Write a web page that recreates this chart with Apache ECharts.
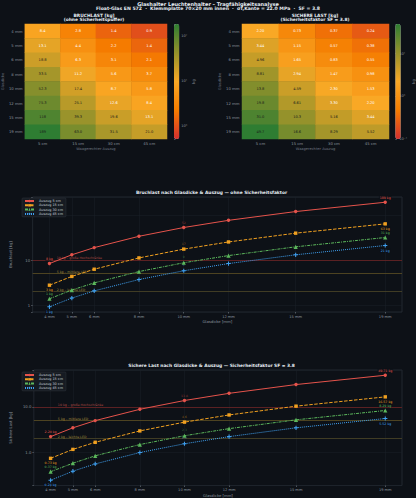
<!DOCTYPE html>
<html><head><meta charset="utf-8">
<script src="https://cdn.jsdelivr.net/npm/echarts@6/dist/echarts.min.js"></script>
<style>html,body{margin:0;padding:0;background:#0d1117}#c{width:416px;height:498px}</style>
</head><body><div id="c"></div>
<script>
// ---------- data ----------
const thicknessLabels = ['4 mm','5 mm','6 mm','8 mm','10 mm','12 mm','15 mm','19 mm'];
const thicknessMm = [4,5,6,8,10,12,15,19];
const extensionLabels = ['5 cm','15 cm','30 cm','45 cm'];
const seriesNames = ['Auszug 5 cm','Auszug 15 cm','Auszug 30 cm','Auszug 45 cm'];
// Bruchlast [kg] per extension, rows = thickness
const break5  = [8.37,13.08,18.84,33.49,52.33,75.35,117.74,188.90];
const break15 = [2.79,4.36,6.28,11.16,17.44,25.12,39.25,62.97];
const break30 = [1.40,2.18,3.14,5.58,8.72,12.56,19.62,31.48];
const break45 = [0.93,1.45,2.09,3.72,5.81,8.37,13.08,20.99];
// Sichere Last [kg] (SF = 3.8)
const safe5  = [2.20,3.44,4.96,8.81,13.77,19.83,30.98,49.71];
const safe15 = [0.73,1.15,1.65,2.94,4.59,6.61,10.33,16.57];
const safe30 = [0.37,0.57,0.83,1.47,2.30,3.30,5.16,8.29];
const safe45 = [0.24,0.38,0.55,0.98,1.53,2.20,3.44,5.52];
// reference loads
const refLoads = [10, 5, 2];
const refLabels = ['10 kg – große Hochschränke', '5 kg – mittlere LED', '2 kg – leichte LED'];
// colour scale limits
const breakScale = [0.5, 188.9];
const safeScale = [0.1, 49.71];

// ---------- styling ----------
const FONT = 'DejaVu Sans';
const BG = '#0d1117';
const TXT = '#c9d1d9';
const DIM = '#8b949e';
const cmap = ['#d32f2f','#f57c00','#f9a825','#94922b','#2e7d32'];
const colors = ['#e5534b','#f0a020','#5cb85c','#3fa0f0'];
const plusPath = 'path://M3,0H5V3H8V5H5V8H3V5H0V3H3Z';
const symbols = ['circle','rect','triangle',plusPath];
const dashes = ['solid',[3.5,1.5],[3,1,1,1],[1,1]];
const refColors = ['#6e2424','#5e5024','#4e4828'];
const refTextColors = ['#b04a44','#a08a3a','#a08a3a'];

const breakLoads = [break5, break15, break30, break45];
const safeLoads = [safe5, safe15, safe30, safe45];
const lg = Math.log10;

function heatData(loads, scale, fmt) {
  const out = [];
  loads.forEach((col, xi) => col.forEach((v, yi) => {
    const f = (lg(v) - lg(scale[0])) / (lg(scale[1]) - lg(scale[0]));
    out.push({ value: [xi, yi, lg(v), v], label: { color: f > 0.58 ? '#1b1b1b' : '#ffffff', formatter: fmt(v) } });
  }));
  return out;
}
const fmtBreak = v => v >= 100 ? v.toFixed(0) : v.toFixed(1);
const fmtSafe = v => v >= 10 ? v.toFixed(1) : v.toFixed(2);
const sup = { '-': '⁻', '0': '⁰', '1': '¹', '2': '²', '3': '³' };
function decadeLabel(v) {
  const e = lg(v);
  if (Math.abs(e - Math.round(e)) > 1e-6) return '';
  return '10' + String(Math.round(e)).split('').map(c => sup[c]).join('');
}

function heatAxes(gi) {
  return {
    x: { gridIndex: gi, type: 'category', data: extensionLabels,
      axisLine: { show: false }, axisTick: { alignWithLabel: true, length: 1.5, lineStyle: { color: DIM, width: 0.5 } },
      axisLabel: { fontSize: 3.8, color: DIM, margin: 2.5, fontFamily: FONT },
      name: 'Waagerechter Auszug', nameLocation: 'middle', nameGap: 8,
      nameTextStyle: { fontSize: 3.6, color: '#6e7681', fontFamily: FONT } },
    y: { gridIndex: gi, type: 'category', data: thicknessLabels, inverse: true,
      axisLine: { show: false }, axisTick: { alignWithLabel: true, length: 1.5, lineStyle: { color: DIM, width: 0.5 } },
      axisLabel: { fontSize: 3.8, color: DIM, margin: 2.5, fontFamily: FONT },
      name: 'Glasdicke', nameLocation: 'middle', nameGap: 15, nameRotate: 90,
      nameTextStyle: { fontSize: 3.6, color: '#6e7681', fontFamily: FONT } }
  };
}
function cbarAxes(gi, scale) {
  return {
    x: { gridIndex: gi, type: 'value', show: false, min: 0, max: 1 },
    y: { gridIndex: gi, type: 'log', min: scale[0], max: scale[1], position: 'right',
      axisLine: { show: false }, splitLine: { show: false },
      axisTick: { length: 1.5, lineStyle: { color: DIM, width: 0.5 } },
      axisLabel: { fontSize: 3.6, color: DIM, margin: 2, fontFamily: FONT, formatter: decadeLabel },
      name: 'kg', nameLocation: 'middle', nameGap: 11, nameRotate: 90,
      nameTextStyle: { fontSize: 3.8, color: DIM, fontFamily: FONT } }
  };
}
function lineAxes(gi, yMin, yMax, yName, yFmt) {
  return {
    x: { gridIndex: gi, type: 'value', min: 3.25, max: 19.75,
      axisLine: { show: false },
      axisTick: { customValues: thicknessMm, length: 1.5, lineStyle: { color: DIM, width: 0.5 } },
      axisLabel: { customValues: thicknessMm, formatter: v => v + ' mm', fontSize: 3.6, color: DIM, margin: 2.5, fontFamily: FONT },
      splitLine: { show: true, lineStyle: { color: '#1a2029', width: 0.5 } },
      name: 'Glasdicke [mm]', nameLocation: 'middle', nameGap: 7.5,
      nameTextStyle: { fontSize: 3.8, color: DIM, fontFamily: FONT } },
    y: { gridIndex: gi, type: 'log', min: yMin, max: yMax,
      axisLine: { show: false },
      axisTick: { length: 1.5, lineStyle: { color: DIM, width: 0.5 } },
      axisLabel: { fontSize: 3.8, color: DIM, margin: 2.5, fontFamily: FONT,
        formatter: v => { const e = lg(v); if (Math.abs(e - Math.round(e)) > 1e-6) return ''; return yFmt(v); } },
      splitLine: { show: true, lineStyle: { color: '#1a2029', width: 0.5 } },
      name: yName, nameLocation: 'middle', nameGap: 10, nameRotate: 90,
      nameTextStyle: { fontSize: 3.8, color: DIM, fontFamily: FONT } }
  };
}

const A = [
  heatAxes(0), cbarAxes(1, breakScale), heatAxes(2), cbarAxes(3, safeScale),
  lineAxes(4, Math.pow(10, -0.146), Math.pow(10, 2.392), 'Bruchlast [kg]', v => String(Math.round(v))),
  lineAxes(5, Math.pow(10, -0.736), Math.pow(10, 1.812), 'Sichere Last [kg]', v => v.toFixed(1))
];

function lineSeries(loads, gi, endFmt, midFmt) {
  return loads.map((arr, si) => {
    const data = arr.map((v, i) => {
      const item = { value: [thicknessMm[i], v] };
      if (i === 0 || i === arr.length - 1) {
        item.label = { show: true, formatter: endFmt(v), position: si % 2 === 0 ? 'top' : 'bottom', distance: 1.2,
          color: colors[si], fontSize: 3.2, fontFamily: FONT,
          backgroundColor: 'rgba(13,17,23,0.7)', padding: [0.3, 0.8] };
      } else if (i === 4) {
        item.label = { show: true, formatter: midFmt(v), position: 'top', distance: 2,
          color: colors[si], opacity: 0.55, fontSize: 3.0, fontFamily: FONT };
      }
      return item;
    });
    const s = {
      type: 'line', name: seriesNames[si], xAxisIndex: gi, yAxisIndex: gi, data,
      symbol: symbols[si], symbolSize: si === 2 ? 4.2 : (si === 3 ? 4.2 : 3.4),
      lineStyle: { color: colors[si], width: 1, type: dashes[si] },
      itemStyle: { color: colors[si] }, label: { show: false }, z: 5 - si, silent: true
    };
    if (si === 0) {
      s.markLine = { silent: true, symbol: 'none', z: 1,
        data: refLoads.map((r, k) => ({ yAxis: r, lineStyle: { color: refColors[k], width: 0.8, type: 'solid' },
          label: { formatter: refLabels[k], color: refTextColors[k] } })),
        label: { position: 'insideStartTop', distance: [24, 0.5], fontSize: 3.2, fontFamily: FONT } };
    }
    return s;
  });
}

const legendCommon = {
  data: seriesNames, orient: 'vertical', itemWidth: 9, itemHeight: 3, itemGap: 1.3,
  textStyle: { fontSize: 3.4, color: TXT, fontFamily: FONT },
  backgroundColor: '#161b22', borderColor: '#30363d', borderWidth: 0.5, borderRadius: 1,
  padding: [1.5, 3, 1.5, 2], selectedMode: false
};

const option = {
  backgroundColor: BG,
  animation: false,
  textStyle: { fontFamily: FONT },
  grid: [
    { left: 21, top: 24, width: 146, height: 115 },
    { left: 174, top: 24, width: 5.3, height: 115 },
    { left: 242, top: 24, width: 147, height: 115 },
    { left: 395.3, top: 24, width: 5.4, height: 115 },
    { left: 21, top: 197, width: 381, height: 115, show: true, borderColor: '#2b313a', borderWidth: 0.7, backgroundColor: BG },
    { left: 21, top: 370, width: 381, height: 116, show: true, borderColor: '#2b313a', borderWidth: 0.7, backgroundColor: BG }
  ],
  xAxis: A.map(a => a.x),
  yAxis: A.map(a => a.y),
  visualMap: [
    { type: 'continuous', seriesIndex: 0, dimension: 2, min: lg(breakScale[0]), max: lg(breakScale[1]),
      inRange: { color: cmap }, left: 174, top: 24, itemWidth: 5.3, itemHeight: 115, padding: 0,
      calculable: false, text: null, orient: 'vertical', hoverLink: false, textStyle: { fontSize: 0 } },
    { type: 'continuous', seriesIndex: 1, dimension: 2, min: lg(safeScale[0]), max: lg(safeScale[1]),
      inRange: { color: cmap }, left: 395.3, top: 24, itemWidth: 5.4, itemHeight: 115, padding: 0,
      calculable: false, text: null, orient: 'vertical', hoverLink: false, textStyle: { fontSize: 0 } }
  ],
  legend: [
    Object.assign({ left: 22, top: 198 }, legendCommon),
    Object.assign({ left: 22, top: 372 }, legendCommon)
  ],
  graphic: [
    { type: 'text', x: 208, y: 1.2, style: { text: 'Glashalter Leuchtenhalter – Tragfähigkeitsanalyse', align: 'center', fill: '#e6edf3', font: 'bold 5px ' + FONT } },
    { type: 'text', x: 208, y: 6.2, style: { text: 'Float-Glas EN 572  ·  Klemmplatte 70×20 mm innen  ·  σf,Kante = 22.0 MPa  ·  SF = 3.8', align: 'center', fill: '#e6edf3', font: 'bold 4.6px ' + FONT } },
    { type: 'text', x: 94, y: 13.2, style: { text: 'BRUCHLAST [kg]', align: 'center', fill: '#e6edf3', font: 'bold 4.4px ' + FONT } },
    { type: 'text', x: 94, y: 17.6, style: { text: '(ohne Sicherheitspuffer)', align: 'center', fill: '#e6edf3', font: 'bold 4.4px ' + FONT } },
    { type: 'text', x: 315, y: 13.2, style: { text: 'SICHERE LAST [kg]', align: 'center', fill: '#e6edf3', font: 'bold 4.4px ' + FONT } },
    { type: 'text', x: 315, y: 17.6, style: { text: '(Sicherheitsfaktor SF = 3.8)', align: 'center', fill: '#e6edf3', font: 'bold 4.4px ' + FONT } },
    { type: 'text', x: 211.5, y: 190.5, style: { text: 'Bruchlast nach Glasdicke & Auszug — ohne Sicherheitsfaktor', align: 'center', fill: '#e6edf3', font: 'bold 4.4px ' + FONT } },
    { type: 'text', x: 211.5, y: 363.5, style: { text: 'Sichere Last nach Glasdicke & Auszug — Sicherheitsfaktor SF = 3.8', align: 'center', fill: '#e6edf3', font: 'bold 4.4px ' + FONT } }
  ],
  series: [
    { type: 'heatmap', xAxisIndex: 0, yAxisIndex: 0, data: heatData(breakLoads, breakScale, fmtBreak),
      label: { show: true, fontSize: 3.6, fontFamily: FONT }, itemStyle: { borderWidth: 0 }, silent: true },
    { type: 'heatmap', xAxisIndex: 2, yAxisIndex: 2, data: heatData(safeLoads, safeScale, fmtSafe),
      label: { show: true, fontSize: 3.6, fontFamily: FONT }, itemStyle: { borderWidth: 0 }, silent: true },
    { type: 'scatter', xAxisIndex: 1, yAxisIndex: 1, data: [], silent: true },
    { type: 'scatter', xAxisIndex: 3, yAxisIndex: 3, data: [], silent: true },
    ...lineSeries(breakLoads, 4, v => Math.round(v) + ' kg', v => String(Math.round(v))),
    ...lineSeries(safeLoads, 5, v => v.toFixed(2) + ' kg', v => v.toFixed(1))
  ]
};
const chart = echarts.init(document.getElementById('c'), null, { renderer: 'svg', width: 416, height: 498 });
chart.setOption(option);
</script></body></html>
